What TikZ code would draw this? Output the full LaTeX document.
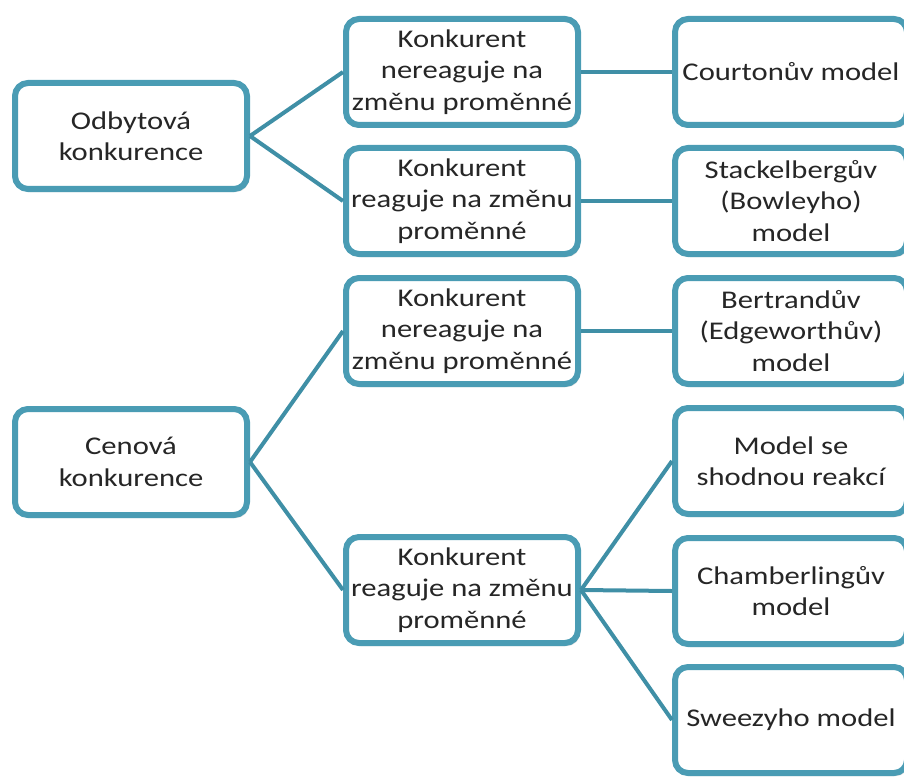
\documentclass[tikz,border=0pt]{standalone}
\usepackage{fontspec}
\setmainfont{Carlito}[FakeStretch=1.2]
\usetikzlibrary{shadows}
\definecolor{boxblue}{HTML}{4A9CB4}
\definecolor{lineblue}{HTML}{3F8FA6}
\tikzset{
  box/.style={draw=boxblue, line width=6pt, rounded corners=13pt, fill=white,
    minimum width=232pt, minimum height=106pt, align=center,
    font=\fontsize{25.5}{31.5}\selectfont, text=black!85,
    drop shadow={opacity=0.25, shadow xshift=2pt, shadow yshift=-3pt}},
  link/.style={draw=lineblue, line width=4pt}
}

\begin{document}
\begin{tikzpicture}[x=1pt,y=-1pt]
  \clip (0,0) rectangle (904,778);
  % left column
  \node[box] (odbyt) at (131,136) {Odbytová\\konkurence};
  \node[box] (cena)  at (131,462) {Cenová\\konkurence};
  % middle column
  \node[box] (nereagA) at (462,72)  {Konkurent\\nereaguje na\\změnu proměnné};
  \node[box] (reagA)   at (462,201) {Konkurent\\reaguje na změnu\\proměnné};
  \node[box] (nereagB) at (462,331) {Konkurent\\nereaguje na\\změnu proměnné};
  \node[box] (reagB)   at (462,590) {Konkurent\\reaguje na změnu\\proměnné};
  % right column
  \node[box] (courton) at (791,72)  {Courtonův model};
  \node[box] (stack)   at (791,201) {Stackelbergův\\(Bowleyho)\\model};
  \node[box] (bertr)   at (791,331) {Bertrandův\\(Edgeworthův)\\model};
  \node[box] (shodna)  at (791,461) {Model se\\shodnou reakcí};
  \node[box] (chamb)   at (791,591) {Chamberlingův\\model};
  \node[box] (sweezy)  at (791,720) {Sweezyho model};
  % links
  \draw[link] (odbyt.east) -- (nereagA.west);
  \draw[link] (odbyt.east) -- (reagA.west);
  \draw[link] (cena.east) -- (nereagB.west);
  \draw[link] (cena.east) -- (reagB.west);
  \draw[link] (nereagA.east) -- (courton.west);
  \draw[link] (reagA.east) -- (stack.west);
  \draw[link] (nereagB.east) -- (bertr.west);
  \draw[link] (reagB.east) -- (shodna.west);
  \draw[link] (reagB.east) -- (chamb.west);
  \draw[link] (reagB.east) -- (sweezy.west);
\end{tikzpicture}
\end{document}
